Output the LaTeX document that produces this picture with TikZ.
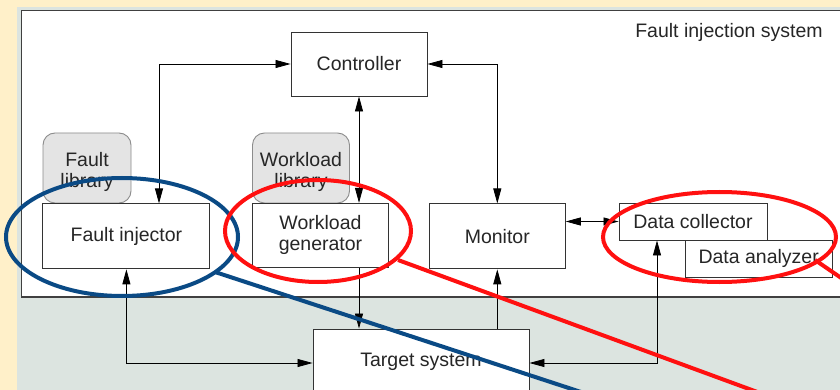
\documentclass[tikz,border=0pt]{standalone}
\usepackage{fontspec}
\setmainfont{Liberation Sans}
\usepackage{xcolor}
\usetikzlibrary{arrows.meta}

\definecolor{paper}{HTML}{FFF0C9}
\definecolor{slate}{HTML}{DCE4E0}
\definecolor{libgray}{HTML}{E4E4E4}
\definecolor{ringblue}{HTML}{0A4A85}
\definecolor{ringred}{HTML}{FF1010}

\begin{document}
\begin{tikzpicture}[x=1pt, y=-1pt,
  every node/.style={font=\fontsize{19.5}{21}\selectfont, text=black!85, align=center},
  block/.style={draw=black!80, fill=white, line width=0.9pt, inner sep=0pt},
  lib/.style={draw=black!45, fill=libgray, rounded corners=12pt, line width=0.9pt, inner sep=0pt},
  link/.style={line width=0.8pt, black},
  >={Triangle[length=15pt,width=8pt]},
  ring/.style={line width=4pt}]
\useasboundingbox (0,0) rectangle (840,390);
\clip (0,0) rectangle (840,390);

\fill[paper] (0,0) rectangle (840,390);
\fill[slate] (17,7) rectangle (840,390);
\draw[black!75, line width=1.5pt, fill=white] (21.5,10.5) rectangle (850,297);
\node (fis) at (729,32) {Fault injection system};

\node[lib, minimum width=88pt, minimum height=70pt,
  label={[yshift=-4pt]center:{Fault\\library}}] (flib) at (87,168) {};
\node[lib, minimum width=97pt, minimum height=70pt,
  label={[yshift=-4pt]center:{Workload\\library}}] (wlib) at (301,168) {};

\node[block, minimum width=136pt, minimum height=64pt] (ctrl) at (359,64) {Controller};
\node[block, minimum width=167pt, minimum height=65pt] (finj) at (126.4,236.4) {Fault injector};
\node[block, minimum width=136pt, minimum height=64pt] (wgen) at (320.5,235.3) {Workload\\generator};
\node[block, minimum width=136pt, minimum height=65pt] (mon) at (497.3,236.4) {Monitor};
\node[block, minimum width=148pt, minimum height=37pt] (dcol) at (693,221.5) {Data collector};
\node[block, minimum width=147pt, minimum height=37pt] (dana) at (758.7,258.7) {Data analyzer};
\node[block, minimum width=216pt, minimum height=66pt] (tgt) at (421,362) {Target system};

\draw[link,<->] (ctrl.west) -| ([xshift=32.6pt]finj.north);
\draw[link,<->] (ctrl.east) -| (mon.north);
\draw[link,<->] (ctrl.south) -- (ctrl.south |- wgen.north);
\draw[link,->] (ctrl.south |- wgen.south) -- (ctrl.south |- tgt.north);
\draw[link,->] (mon.south |- tgt.north) -- (mon.south);
\draw[link,<->] (mon.east |- dcol.west) -- (dcol.west);
\draw[link,<->] (finj.south) |- ([yshift=-1pt]tgt.west);
\draw[link,<->] ([xshift=-36pt]dcol.south) |- ([yshift=-1pt]tgt.east);

% highlight rings
\draw[ring, ringblue] (122,237) ellipse [x radius=116, y radius=59];
\draw[ring, ringblue] (215,272) -- (584,393);
\draw[ring, ringred] (318,231) ellipse [x radius=93, y radius=51];
\draw[ring, ringred] (398,260) -- (760,393);
\draw[ring, ringred] (719.5,237) ellipse [x radius=116.5, y radius=45];
\draw[ring, ringred] (815,260) -- (850,284);
\end{tikzpicture}
\end{document}
